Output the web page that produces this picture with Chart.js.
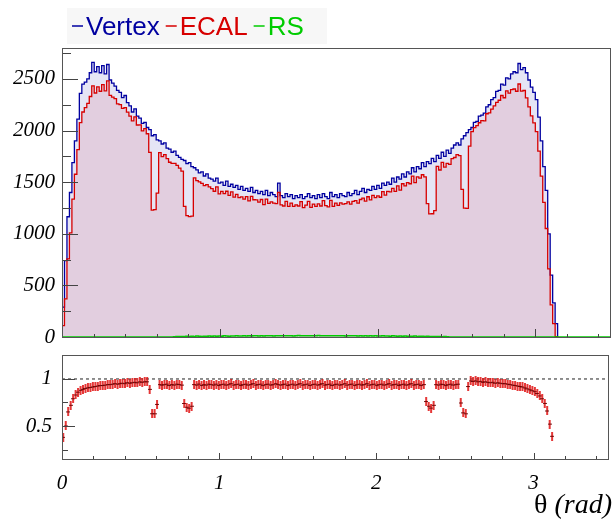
<!DOCTYPE html>
<html>
<head>
<meta charset="utf-8">
<script src="https://cdn.jsdelivr.net/npm/chart.js@4.4.0/dist/chart.umd.min.js"></script>
<style>
  html, body { margin: 0; padding: 0; background: #fff; }
  #wrap { position: relative; width: 614px; height: 519px; overflow: hidden; }
  canvas { position: absolute; left: 0; }
  #top { top: 0; }
  #bottom { top: 325px; }
</style>
</head>
<body>
<div id="wrap">
  <canvas id="top" width="614" height="362"></canvas>
  <canvas id="bottom" width="614" height="194"></canvas>
</div>
<script>
// histogram binning: 200 bins over [0, pi]
const thetaMax = Math.PI;
const nBins = 200;
const axisMax = 3.48;

const vertex = [
  290, 740, 1165, 1400, 1690, 1900, 2110, 2360, 2450, 2470,
  2500, 2560, 2660, 2570, 2620, 2560, 2630, 2550, 2640, 2490,
  2460, 2430, 2390, 2370, 2320, 2340, 2270, 2240, 2180, 2210,
  2140, 2120, 2070, 2080, 2030, 2010, 1950, 1960, 1910, 1900,
  1870, 1880, 1830, 1820, 1790, 1800, 1760, 1740, 1720, 1710,
  1680, 1690, 1650, 1640, 1620, 1590, 1600, 1560, 1580, 1540,
  1530, 1510, 1540, 1490, 1500, 1470, 1510, 1460, 1480, 1450,
  1470, 1430, 1460, 1420, 1440, 1410, 1450, 1400, 1420, 1390,
  1410, 1380, 1420, 1370, 1400, 1380, 1360, 1490, 1370, 1350,
  1390, 1360, 1380, 1340, 1370, 1350, 1380, 1340, 1360, 1390,
  1350, 1370, 1340, 1380, 1350, 1390, 1360, 1340, 1400, 1360,
  1380, 1350, 1390, 1370, 1360, 1400, 1370, 1390, 1420, 1380,
  1410, 1440, 1400, 1430, 1420, 1460, 1430, 1470, 1440, 1490,
  1470, 1500, 1480, 1540, 1500, 1550, 1530, 1580, 1550, 1600,
  1580, 1640, 1600, 1650, 1630, 1690, 1650, 1700, 1680, 1730,
  1700, 1760, 1730, 1790, 1750, 1810, 1780, 1830, 1860, 1880,
  1860, 1920, 1950, 1980, 2010, 2030, 2080, 2090, 2140, 2150,
  2170, 2230, 2250, 2300, 2320, 2380, 2390, 2450, 2440, 2510,
  2500, 2550, 2570, 2560, 2650, 2590, 2610, 2560, 2490, 2420,
  2370, 2300, 2130, 1900, 1650, 1420, 1000, 600, 330, 130
];

const ecal = [
  110, 370, 757, 1008, 1335, 1577, 1815, 2077, 2180, 2223,
  2263, 2330, 2434, 2364, 2424, 2381, 2446, 2384, 2482, 2341,
  2325, 2309, 2259, 2252, 2216, 2223, 2179, 2139, 2093, 2133,
  2054, 2056, 1998, 2018, 1969, 1789, 1229, 1235, 1394, 1786,
  1748, 1767, 1729, 1693, 1683, 1683, 1663, 1636, 1608, 1265,
  1176, 1166, 1172, 1542, 1515, 1503, 1488, 1466, 1477, 1455,
  1438, 1412, 1455, 1386, 1410, 1389, 1412, 1372, 1406, 1356,
  1382, 1351, 1358, 1335, 1361, 1318, 1363, 1330, 1328, 1307,
  1332, 1283, 1335, 1295, 1309, 1297, 1292, 1401, 1281, 1269,
  1314, 1265, 1297, 1266, 1281, 1269, 1311, 1253, 1278, 1314,
  1256, 1288, 1266, 1290, 1269, 1321, 1272, 1260, 1323, 1265,
  1297, 1276, 1300, 1288, 1292, 1309, 1288, 1314, 1321, 1297,
  1332, 1346, 1316, 1359, 1328, 1372, 1351, 1367, 1354, 1408,
  1374, 1410, 1406, 1440, 1410, 1465, 1423, 1485, 1465, 1496,
  1485, 1558, 1496, 1551, 1540, 1572, 1551, 1292, 1193, 1194,
  1224, 1654, 1618, 1692, 1645, 1683, 1673, 1729, 1739, 1767,
  1758, 1430, 1248, 1247, 1849, 1989, 2028, 2048, 2076, 2096,
  2094, 2163, 2171, 2208, 2239, 2273, 2294, 2340, 2318, 2385,
  2363, 2397, 2403, 2381, 2451, 2383, 2388, 2317, 2229, 2142,
  2074, 1990, 1800, 1558, 1304, 1051, 660, 312, 129, 4
];

const rs = [
  0, 0, 0, 0, 0, 0, 0, 0, 0, 0,
  0, 0, 0, 0, 0, 0, 0, 0, 0, 0,
  0, 0, 0, 0, 0, 0, 0, 0, 0, 0,
  0, 0, 0, 0, 0, 0, 0, 0, 0, 0,
  0, 0, 0, 0, 0, 3, 5, 4, 6, 5,
  7, 6, 8, 5, 9, 7, 6, 8, 7, 9,
  8, 10, 7, 9, 8, 11, 9, 8, 10, 9,
  11, 9, 10, 12, 9, 11, 10, 12, 11, 10,
  12, 10, 11, 13, 12, 10, 12, 11, 13, 12,
  11, 13, 12, 10, 12, 14, 11, 12, 13, 12,
  13, 12, 11, 14, 12, 13, 12, 11, 13, 12,
  12, 11, 13, 12, 10, 12, 11, 13, 12, 10,
  11, 10, 12, 9, 11, 10, 12, 9, 10, 11,
  9, 10, 8, 11, 9, 8, 10, 7, 9, 8,
  8, 7, 9, 6, 8, 7, 5, 7, 6, 5,
  6, 4, 5, 3, 4, 2, 0, 0, 0, 0,
  0, 0, 0, 0, 0, 0, 0, 0, 0, 0,
  0, 0, 0, 0, 0, 0, 0, 0, 0, 0,
  0, 0, 0, 0, 0, 0, 0, 0, 0, 0,
  0, 0, 0, 0, 0, 0, 0, 0, 0, 0
];

const legendLabels = ['Vertex', 'ECAL', 'RS'];
const countTicks = [0, 500, 1000, 1500, 2000, 2500];
const ratioTicks = [0.5, 1];
const thetaTicks = [0, 1, 2, 3];

const BLUE = 'rgb(0,0,160)';
const RED = 'rgb(215,0,0)';
const GREEN = 'rgb(0,204,0)';
const serif = '"Liberation Serif", "Times New Roman", serif';
const tickFont = { family: serif, style: 'italic', size: 21 };

const binW = thetaMax / nBins;

// outline points for a step histogram
function histPoints(values, tail) {
  const pts = [{ x: 0, y: 0 }];
  values.forEach((v, i) => pts.push({ x: i * binW, y: v }));
  pts.push({ x: thetaMax, y: 0 });
  if (tail) pts.push({ x: tail, y: 0 });
  return pts;
}

const ratioPts = [];
ecal.forEach((e, i) => {
  if (vertex[i] > 0) ratioPts.push({ x: (i + 0.5) * binW, y: e / vertex[i] });
});

// small error-bar marker for ratio points
const marker = document.createElement('canvas');
marker.width = 4; marker.height = 9;
const mg = marker.getContext('2d');
mg.fillStyle = 'rgba(225,20,20,0.85)';
mg.fillRect(1, 0, 2, 9);
mg.fillStyle = 'rgba(100,0,0,0.9)';
mg.fillRect(0, 4, 4, 1);

// ROOT-like frame with inner tick marks
const rootFrame = {
  id: 'rootFrame',
  afterDatasetsDraw(chart, args, o) {
    const { ctx, chartArea: a, scales } = chart;
    ctx.save();
    ctx.strokeStyle = '#444';
    ctx.lineWidth = 1;
    ctx.beginPath();
    const per = Math.round(o.xMajor / o.xMinor);
    for (let k = 0; k * o.xMinor <= axisMax + 1e-9; k++) {
      const px = Math.round(scales.x.getPixelForValue(k * o.xMinor)) + 0.5;
      const len = k % per === 0 ? o.xMajorLen : o.xMinorLen;
      ctx.moveTo(px, a.bottom);
      ctx.lineTo(px, a.bottom - len);
    }
    const ys = scales.y;
    const perY = Math.round(o.yMajor / o.yMinor);
    const k0 = Math.ceil(ys.min / o.yMinor - 1e-9);
    for (let k = k0; k * o.yMinor <= ys.max + 1e-9; k++) {
      const py = Math.round(ys.getPixelForValue(k * o.yMinor)) + 0.5;
      const len = k % perY === 0 ? o.yMajorLen : o.yMinorLen;
      ctx.moveTo(a.left, py);
      ctx.lineTo(a.left + len, py);
    }
    ctx.stroke();
    ctx.strokeStyle = '#555';
    ctx.strokeRect(Math.round(a.left) + 0.5, Math.round(a.top) + 0.5,
      Math.round(a.right - a.left) - 1, Math.round(a.bottom - a.top));
    ctx.restore();
  }
};

const legendDraw = {
  id: 'legendDraw',
  afterDraw(chart) {
    const ctx = chart.ctx;
    ctx.save();
    ctx.fillStyle = '#f7f7f7';
    ctx.fillRect(67, 8, 260, 36);
    ctx.font = '26px "Liberation Sans", Arial, sans-serif';
    ctx.textBaseline = 'alphabetic';
    const colors = [BLUE, RED, GREEN];
    let x = 72;
    legendLabels.forEach((lab, i) => {
      ctx.strokeStyle = colors[i];
      ctx.lineWidth = 1.5;
      ctx.beginPath();
      ctx.moveTo(x, 26);
      ctx.lineTo(x + 11, 26);
      ctx.stroke();
      ctx.fillStyle = colors[i];
      ctx.fillText(lab, x + 14, 35);
      x += 14 + ctx.measureText(lab).width + 6;
    });
    ctx.restore();
  }
};

const axisTitle = {
  id: 'axisTitle',
  afterDraw(chart) {
    const ctx = chart.ctx;
    ctx.save();
    ctx.fillStyle = '#000';
    ctx.textBaseline = 'alphabetic';
    ctx.textAlign = 'right';
    ctx.font = 'italic 28px ' + serif;
    const rad = '(rad)';
    ctx.fillText(rad, 612, 188);
    const w = ctx.measureText(rad).width;
    ctx.font = '28px ' + serif;
    ctx.fillText('\u03b8 ', 612 - w, 188);
    ctx.restore();
  }
};

const fixTicks = list => s => { s.ticks = list.map(v => ({ value: v })); };

new Chart(document.getElementById('top'), {
  type: 'line',
  data: {
    datasets: [
      { label: legendLabels[2], data: histPoints(rs, axisMax), borderColor: GREEN,
        borderWidth: 1.5, pointRadius: 0, stepped: true, fill: false, order: 0 },
      { label: legendLabels[1], data: histPoints(ecal), borderColor: RED,
        backgroundColor: 'rgba(200,0,30,0.1)', borderWidth: 1.3, pointRadius: 0,
        stepped: true, fill: 'origin', order: 1 },
      { label: legendLabels[0], data: histPoints(vertex), borderColor: BLUE,
        backgroundColor: 'rgba(40,40,170,0.12)', borderWidth: 1.3, pointRadius: 0,
        stepped: true, fill: 'origin', order: 2 }
    ]
  },
  options: {
    responsive: false,
    animation: false,
    layout: { padding: { top: 48, right: 3, left: 0, bottom: 0 } },
    plugins: {
      legend: { display: false },
      tooltip: { enabled: false },
      rootFrame: { xMajor: 1, xMinor: 0.2, xMajorLen: 8, xMinorLen: 3,
                   yMajor: 500, yMinor: 250, yMajorLen: 16, yMinorLen: 9 }
    },
    scales: {
      x: {
        type: 'linear', min: 0, max: axisMax,
        grid: { display: false, drawTicks: false }, border: { display: false },
        ticks: { display: false },
        afterFit: s => { s.height = 25; }
      },
      y: {
        min: 0, max: 2800,
        grid: { display: false, drawTicks: false }, border: { display: false },
        afterBuildTicks: fixTicks(countTicks),
        ticks: { font: tickFont, color: '#000', padding: 7, callback: v => String(v) },
        afterFit: s => { s.width = 62; }
      }
    }
  },
  plugins: [rootFrame, legendDraw]
});

new Chart(document.getElementById('bottom'), {
  type: 'line',
  data: {
    datasets: [
      { data: [{ x: 0, y: 1 }, { x: axisMax, y: 1 }], borderColor: '#222',
        borderWidth: 1, borderDash: [3, 3], pointRadius: 0, order: 1 },
      { data: ratioPts, showLine: false, pointStyle: marker, pointRadius: 4,
        clip: 0, order: 0 }
    ]
  },
  options: {
    responsive: false,
    animation: false,
    layout: { padding: { top: 30, right: 3, left: 0, bottom: 0 } },
    plugins: {
      legend: { display: false },
      tooltip: { enabled: false },
      rootFrame: { xMajor: 1, xMinor: 0.2, xMajorLen: 6, xMinorLen: 3,
                   yMajor: 0.5, yMinor: 0.25, yMajorLen: 13, yMinorLen: 6 }
    },
    scales: {
      x: {
        type: 'linear', min: 0, max: axisMax,
        grid: { display: false, drawTicks: false }, border: { display: false },
        afterBuildTicks: fixTicks(thetaTicks),
        ticks: { font: tickFont, color: '#000', padding: 12, maxRotation: 0,
                 autoSkip: false, callback: v => String(v) },
        afterFit: s => { s.height = 60; }
      },
      y: {
        min: 0.149, max: 1.255,
        grid: { display: false, drawTicks: false }, border: { display: false },
        afterBuildTicks: fixTicks(ratioTicks),
        ticks: { font: tickFont, color: '#000', padding: 10,
                 callback: v => String(+v.toFixed(2)) },
        afterFit: s => { s.width = 62; }
      }
    }
  },
  plugins: [rootFrame, axisTitle]
});
</script>
</body>
</html>
